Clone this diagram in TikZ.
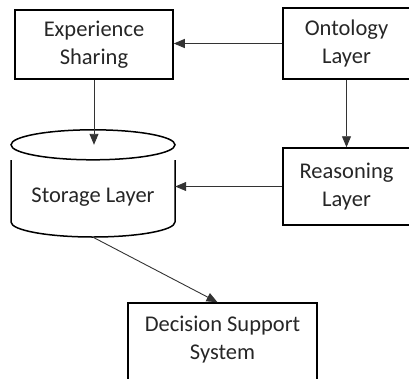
\documentclass[tikz,border=0pt]{standalone}
\usepackage{fontspec}
\setmainfont{Carlito}
\usetikzlibrary{arrows.meta}
\begin{document}
\begin{tikzpicture}[x=1pt,y=-1pt,
  box/.style={draw=black, line width=1.5pt, inner sep=0pt, align=center,
    font=\fontsize{22.5}{28}\selectfont, text=black!85},
  lbl/.style={inner sep=0pt, align=center, font=\fontsize{22.5}{28}\selectfont, text=black!85},
  conn/.style={draw=black!80, line width=0.9pt, -{Triangle[length=11pt,width=9pt]}}]
\useasboundingbox (0,0) rectangle (409,378);
\clip (0,0) rectangle (409,378);
% boxes
\node[box, minimum width=158pt, minimum height=69pt] (exp) at (94,44.5) {Experience\\Sharing};
\node[box, minimum width=127pt, minimum height=71pt] (ont) at (346.5,43.5) {Ontology\\Layer};
\node[box, minimum width=127pt, minimum height=77pt] (rea) at (346.5,186.5) {Reasoning\\Layer};
\node[box, minimum width=189pt, minimum height=90pt] (dec) at (222.5,348) {};
\node[lbl] (dectext) at (222.5,340) {Decision Support\\System};
% storage cylinder
\node[inner sep=0pt, minimum width=164pt, minimum height=92pt] (sto) at (93,191) {};
\draw[line width=1.5pt] (sto.north) ellipse [x radius=82pt, y radius=15pt];
\path (sto.north) ++(0,15) coordinate (topc);
\draw[line width=1.5pt] (11,160) -- (11,222) arc[start angle=180, end angle=360, x radius=82pt, y radius=15pt] -- (175,160);
\node[lbl] (stotext) at (93,197) {Storage Layer};
% connectors
\draw[conn] (ont.west) -- (ont.west -| exp.east);
\draw[conn] (ont.south) -- (rea.north);
\draw[conn] (exp.south) -- (exp.south |- sto.north);
\draw[conn] (rea.west) -- (rea.west -| sto.east);
\draw[conn, -{Triangle[length=11pt,width=9pt]}] (sto.south) -- ([xshift=-5pt]dec.north);
\end{tikzpicture}
\end{document}
